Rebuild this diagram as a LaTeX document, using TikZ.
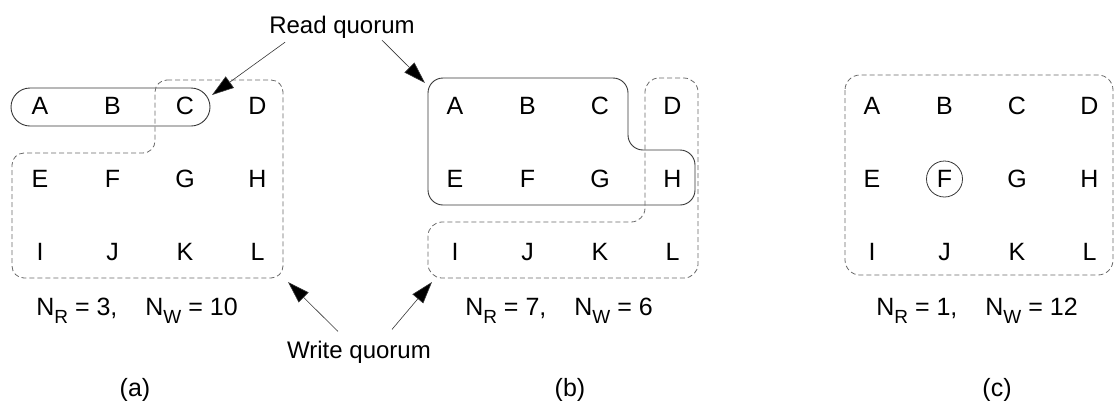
\documentclass[tikz,border=0pt]{standalone}
\usepackage{fontspec}
\setmainfont{Liberation Sans}
\usetikzlibrary{positioning,arrows.meta,calc}
\definecolor{inkgray}{RGB}{55,55,55}
\definecolor{dashgray}{RGB}{105,105,105}
\newcommand{\sub}[1]{\raisebox{-8pt}{\fontsize{19}{19}\selectfont #1}}

\begin{document}
\begin{tikzpicture}[
        x=1pt, y=-1pt,
        every node/.style={font=\fontsize{25}{29}\selectfont, inner sep=0pt},
        tag/.style={font=\fontsize{24}{28}\selectfont, anchor=base},
        readq/.style={draw=inkgray, line width=0.9pt},
        writeq/.style={draw=dashgray, line width=0.8pt, dash pattern=on 5pt off 3pt},
        pointer/.style={-{Triangle[length=22pt,width=14pt,fill=black]}, draw=inkgray, line width=0.6pt}
    ]
    \useasboundingbox (0,0) rectangle (1116,400);
    % three copies of the twelve sites
    \foreach \p/\xo in {a/40,b/455,c/872}{
        \foreach \s [count=\i from 0] in {A,B,C,D,E,F,G,H,I,J,K,L}{
            \pgfmathsetmacro\col{mod(\i,4)}
            \pgfmathsetmacro\row{int(\i/4)}
            \node (\p\s) at (\xo+72.5*\col, 106+73*\row) {\s};
        }
    }
    % (a) quorums
    \draw[readq, rounded corners=19pt] (11,88) rectangle (210,126);
    \draw[writeq, rounded corners=12pt] (155,80) -- (283,80) -- (283,278) -- (12,278)
        -- (12,153) -- (155,153) -- cycle;
    % (b) quorums
    \draw[readq, rounded corners=15pt] (428,78) -- (628,78) -- (628,150) -- (695,150)
        -- (695,205) -- (428,205) -- cycle;
    \draw[writeq, rounded corners=14pt] (645,78) -- (698,78) -- (698,278) -- (428,278)
        -- (428,222) -- (645,222) -- cycle;
    % (c) quorums
    \draw[writeq, rounded corners=15pt] (845,75) rectangle (1113,275);
    \node[draw=inkgray, line width=0.8pt, circle, minimum size=36pt] (cF') at (cF) {};

    \node[tag] (rq) at (342,33) {Read quorum};
    \coordinate (rqa) at (212,95);
    \coordinate (rqb) at (425,83);
    \draw[pointer] ($(rq.south west)+(16,4)$) -- (rqa);
    \draw[pointer] ($(rq.south)+(40,2)$) -- (rqb);

    \node[tag] (wq) at (359,358) {Write quorum};
    \coordinate (wqa) at (288,282);
    \coordinate (wqb) at (432,282);
    \draw[pointer] ($(wq.north)+(-21,-9)$) -- (wqa);
    \draw[pointer] ($(wq.north)+(33,-11)$) -- (wqb);

    \node[anchor=base] (na) at (137,315) {N\sub{R} = 3,\hspace{28pt}N\sub{W} = 10};
    \node[anchor=base] (nb) at (559,315) {N\sub{R} = 7,\hspace{28pt}N\sub{W} = 6};
    \node[anchor=base] (nc) at (977,315) {N\sub{R} = 1,\hspace{28pt}N\sub{W} = 12};

    \node (capa) at (135,390) {(a)};
    \node (capb) at (570,390) {(b)};
    \node (capc) at (997,390) {(c)};
\end{tikzpicture}
\end{document}
